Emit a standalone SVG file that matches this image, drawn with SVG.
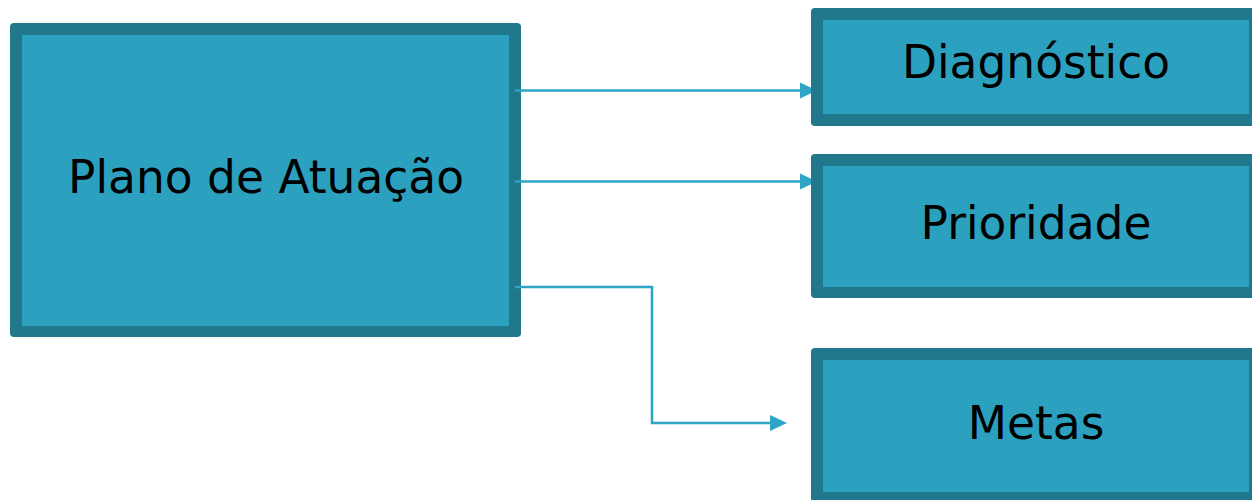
<svg xmlns="http://www.w3.org/2000/svg" width="1252" height="500" viewBox="0 0 1252 500">
  <style>
    .outer { fill: #21778b; }
    .inner { fill: #2ca1bf; }
    .label { font-family: "DejaVu Sans", "Liberation Sans", sans-serif; font-size: 45.5px; fill: #000000; text-anchor: middle; }
    .conn { fill: none; stroke: #2ea5c4; stroke-width: 2.6; }
  </style>
  <defs>
    <marker id="arrow" markerUnits="userSpaceOnUse" markerWidth="18" markerHeight="17" refX="6" refY="8" orient="auto" viewBox="0 0 18 17" overflow="visible">
      <path d="M0,0 L17,8 L0,16 Z" fill="#2ea5c4"/>
    </marker>
  </defs>
  <rect width="1252" height="500" fill="#ffffff"/>
  <g id="plano">
    <rect class="outer" x="10" y="23" width="511" height="314" rx="4"/>
    <rect class="inner" x="22" y="35" width="487" height="291"/>
    <text class="label" x="266" y="193">Plano de Atuação</text>
  </g>
  <g id="connectors">
    <path class="conn" d="M515,90.5 H806" marker-end="url(#arrow)"/>
    <path class="conn" d="M515,181.5 H806" marker-end="url(#arrow)"/>
    <path class="conn" d="M515,287 H652 V423 H776" marker-end="url(#arrow)"/>
  </g>
  <g id="diagnostico">
    <rect class="outer" x="811" y="8" width="450" height="118" rx="4"/>
    <rect class="inner" x="823" y="20" width="426" height="94"/>
    <text class="label" x="1036" y="78">Diagnóstico</text>
  </g>
  <g id="prioridade">
    <rect class="outer" x="811" y="154" width="450" height="144" rx="4"/>
    <rect class="inner" x="823" y="166" width="426" height="121"/>
    <text class="label" x="1036" y="239">Prioridade</text>
  </g>
  <g id="metas">
    <rect class="outer" x="811" y="348" width="450" height="160" rx="4"/>
    <rect class="inner" x="823" y="360" width="426" height="132"/>
    <text class="label" x="1036" y="439">Metas</text>
  </g>
</svg>
